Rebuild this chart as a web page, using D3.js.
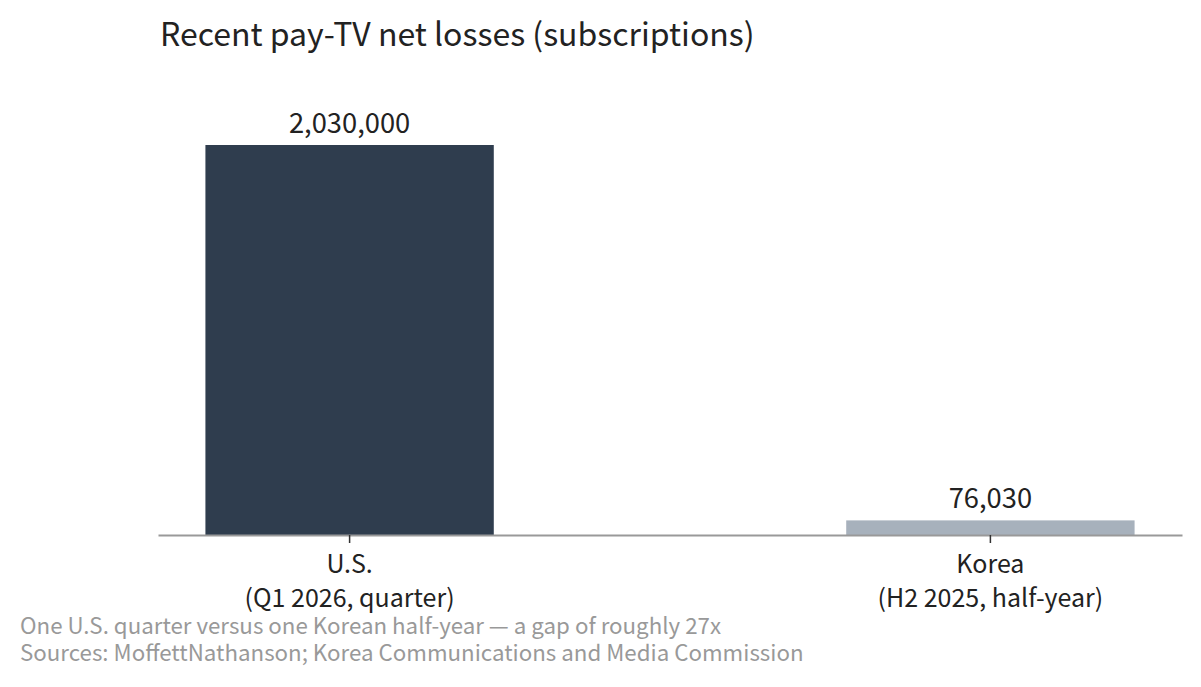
<!DOCTYPE html>
<html><head><meta charset="utf-8">
<script src="https://cdn.jsdelivr.net/npm/d3@7"></script>
<style>
body{margin:0;background:#fff;}
svg{display:block;font-family:"Noto Sans CJK SC","Source Sans Pro","Noto Sans",sans-serif;}
</style></head>
<body><svg id="chart" width="1201" height="687"></svg>
<script>
const categories = ["U.S.", "Korea"];
const subLabels = ["(Q1 2026, quarter)", "(H2 2025, half-year)"];
const values = [2030000, 76030];
const barColors = ["#2f3d4e", "#a7b1bc"];
const title = "Recent pay-TV net losses (subscriptions)";
const notes = ["One U.S. quarter versus one Korean half-year \u2014 a gap of roughly 27x",
               "Sources: MoffettNathanson; Korea Communications and Media Commission"];

const svg = d3.select("#chart");
const x = d3.scaleBand().domain(categories).range([158, 1182]).paddingInner(0.55).paddingOuter(0.074);
const y = d3.scaleLinear().domain([0, d3.max(values)]).range([535, 145]);

svg.append("text").attr("x", 160).attr("y", 46).attr("font-size", 32).attr("fill", "#222").text(title);

svg.selectAll("rect.bar").data(values).join("rect").attr("class","bar")
  .attr("x", (d,i)=>x(categories[i])).attr("width", x.bandwidth())
  .attr("y", d=>y(d)).attr("height", d=>y(0)-y(d))
  .attr("fill", (d,i)=>barColors[i]);

svg.selectAll("text.val").data(values).join("text").attr("class","val")
  .attr("x", (d,i)=>x(categories[i])+x.bandwidth()/2).attr("y", d=>y(d)-12)
  .attr("text-anchor","middle").attr("font-size", 27.3).attr("fill","#222")
  .text(d=>d3.format(",")(d));

const ax = svg.append("g").attr("transform", `translate(0,${y(0)})`)
  .call(d3.axisBottom(x).tickSize(8).tickSizeOuter(0).tickFormat(""));
ax.select(".domain").attr("stroke","#999").attr("stroke-width",2);
ax.selectAll(".tick line").attr("stroke","#333").attr("stroke-width",1.5);

categories.forEach((c,i)=>{
  const cx = x(c)+x.bandwidth()/2;
  const t = svg.append("text").attr("text-anchor","middle").attr("font-size",25).attr("fill","#222");
  t.append("tspan").attr("x",cx).attr("y",573).text(c);
  t.append("tspan").attr("x",cx).attr("y",607).text(subLabels[i]);
});

notes.forEach((n,i)=>{
  svg.append("text").attr("x",20).attr("y",634+i*27).attr("font-size",22.3).attr("fill","#999").text(n);
});
</script></body></html>
